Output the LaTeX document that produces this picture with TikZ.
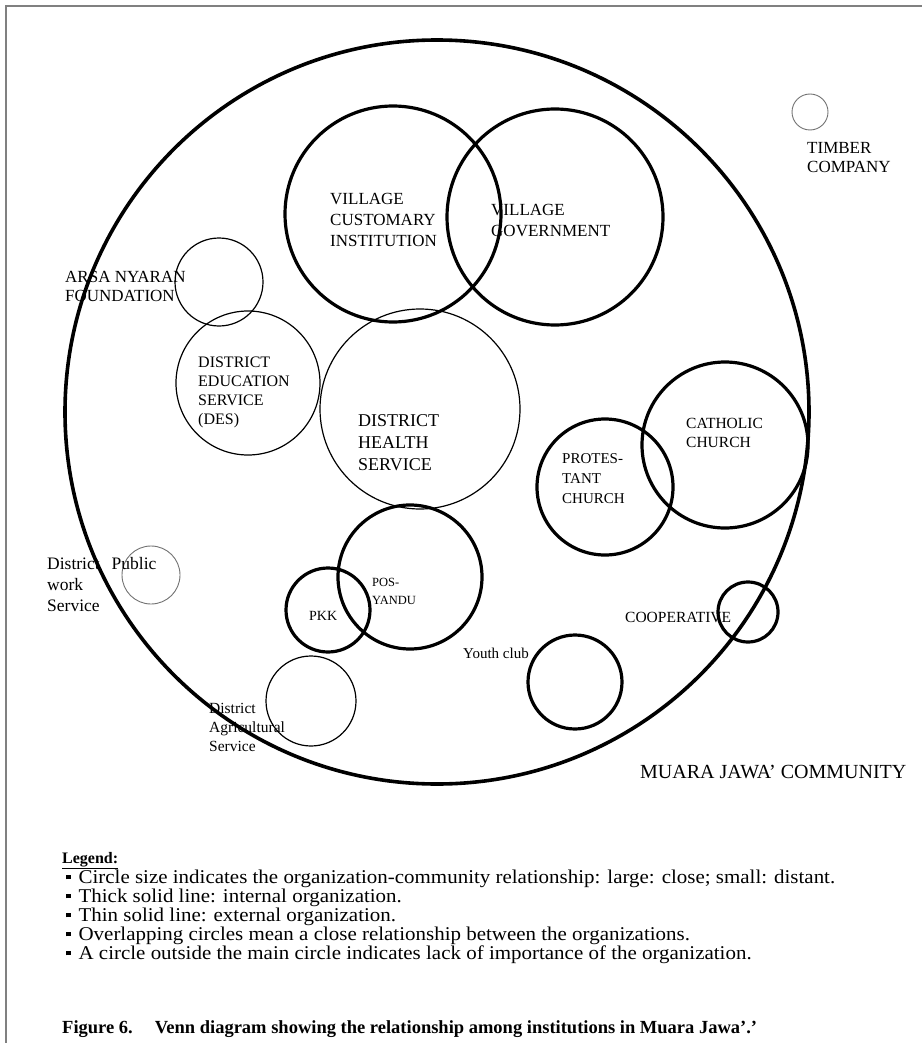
\documentclass[tikz,border=0pt]{standalone}
\usepackage{fontspec}
\setmainfont{Liberation Serif}
\newcommand{\lsq}{\raisebox{0.22em}{\rule{4.5pt}{4.5pt}}\hspace{7pt}}
\begin{document}
\begin{tikzpicture}[x=1pt,y=-1pt,
  mainc/.style={line width=3.6pt},
  thickc/.style={line width=3.2pt},
  thinc/.style={line width=1.2pt},
  faintc/.style={line width=0.9pt, draw=black!55},
  lbl/.style={anchor=north west, inner sep=0pt, align=left},
  fs/.style 2 args={font=\fontsize{#1}{#2}\selectfont},
]
\useasboundingbox (0,0) rectangle (922,1043);
\fill[white] (0,0) rectangle (922,1043);
\draw[black!50, line width=1.5pt] (6,1043) -- (6,6) -- (922,6);

% main community circle
\draw[mainc] (437,412) circle [radius=372pt];

% internal organizations (thick)
\draw[thickc] (393,214) circle [radius=108pt];
\draw[thickc] (555,217) circle [radius=108pt];
\draw[thickc] (410,577) circle [radius=72pt];
\draw[thickc] (328,610) circle [radius=42pt];
\draw[thickc] (605,487) circle [radius=68pt];
\draw[thickc] (725,445) circle [radius=83pt];
\draw[thickc] (748,612) circle [radius=30pt];
\draw[thickc] (575,682) circle [radius=47pt];

% external organizations (thin)
\draw[thinc] (219,282) circle [radius=44pt];
\draw[thinc] (248,383) circle [radius=72pt];
\draw[thinc] (420,409) circle [radius=100pt];
\draw[thinc] (311,701) circle [radius=45pt];
\draw[faintc] (151,575) circle [radius=29pt];
\draw[faintc] (810,112) circle [radius=18pt];

% labels
\node[lbl, fs={17}{19}] (timber) at (807,142.4) {TIMBER\\COMPANY};
\node[lbl, fs={17}{21}] (vci) at (330,193.4) {VILLAGE\\CUSTOMARY\\INSTITUTION};
\node[lbl, fs={17}{21}] (vg) at (491,204.4) {VILLAGE\\GOVERNMENT};
\node[lbl, fs={17}{19}] (arsa) at (65,271.4) {ARSA NYARAN\\FOUNDATION};
\node[lbl, fs={16}{19}] (des) at (198,356.7) {DISTRICT\\EDUCATION\\SERVICE\\(DES)};
\node[lbl, fs={18}{22}] (dhs) at (358,414) {DISTRICT\\HEALTH\\SERVICE};
\node[lbl, fs={12.5}{18}] (pos) at (372,577.9) {POS-\\YANDU};
\node[lbl, fs={14}{18}] (pkk) at (309,611.4) {PKK};
\node[lbl, fs={15}{20}] (prot) at (562,453) {PROTES-\\TANT\\CHURCH};
\node[lbl, fs={15.5}{19}] (cath) at (686,417.9) {CATHOLIC\\CHURCH};
\node[lbl, fs={15.5}{19}] (coop) at (625,611.9) {COOPERATIVE};
\node[lbl, fs={15}{19}] (youth) at (463,648) {Youth club};
\node[lbl, fs={20}{22}] (muara) at (640,765.4) {MUARA JAWA’ COMMUNITY};
\node[lbl, fs={17.5}{21}] (dpw) at (47,557.2) {District\hspace{12pt}Public\\work\\Service};
\node[lbl, fs={15.5}{19}] (das) at (209,702.9) {District\\Agricultural\\Service};

% legend
\node[lbl, font=\bfseries\fontsize{16}{19}\selectfont] (legendtitle) at (62,851.7) {\underline{Legend:}};
\node[lbl, fs={19.5}{19}, xscale=1.075, transform shape] (legendlist) at (66,870) {%
\lsq Circle size indicates the organization-community relationship: large: close; small: distant.\\
\lsq Thick solid line: internal organization.\\
\lsq Thin solid line: external organization.\\
\lsq Overlapping circles mean a close relationship between the organizations.\\
\lsq A circle outside the main circle indicates lack of importance of the organization.};

% caption
\node[lbl, font=\bfseries\fontsize{18.5}{20}\selectfont] (caption) at (62,1020.5) {Figure 6.\hspace{22pt}Venn diagram showing the relationship among institutions in Muara Jawa’.’};
\end{tikzpicture}
\end{document}
